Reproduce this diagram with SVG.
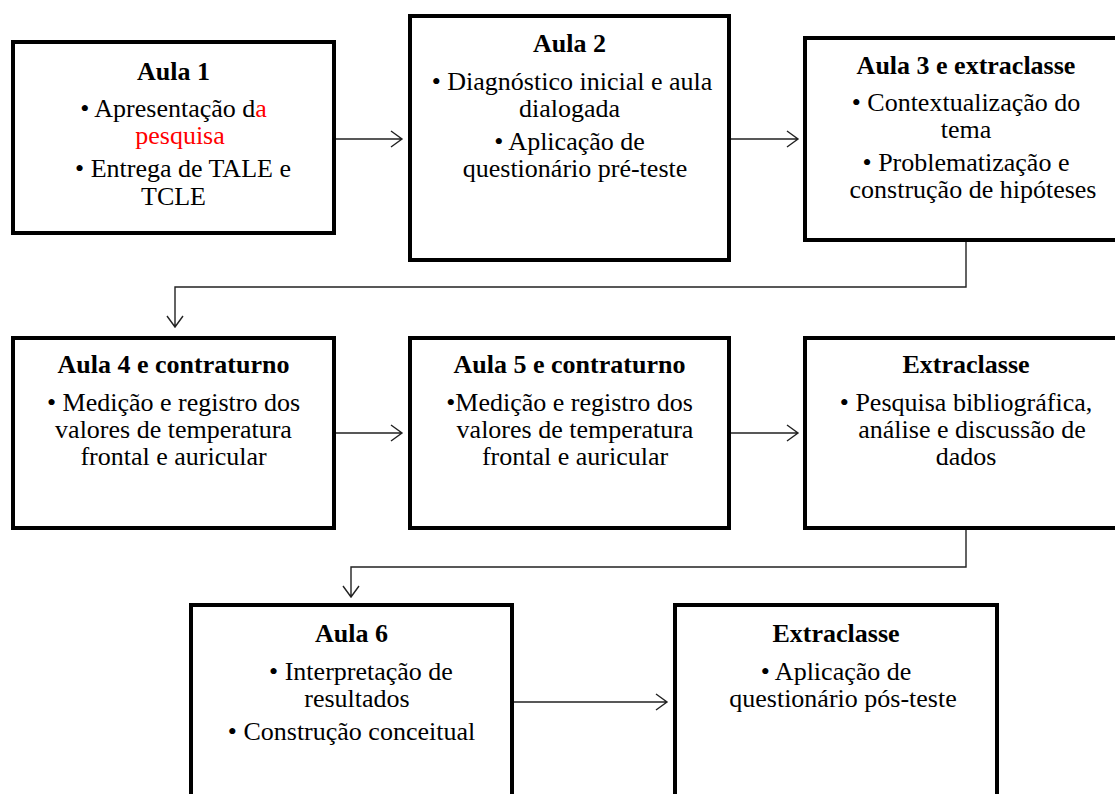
<svg xmlns="http://www.w3.org/2000/svg" width="1115" height="794" viewBox="0 0 1115 794">
<style>
.box{fill:#fff;stroke:#000;stroke-width:4}
.t{font-family:"Liberation Serif","Times New Roman",serif;font-size:26px;fill:#000;text-anchor:middle}
.b{font-weight:bold}
.red{fill:#f00}
.c{fill:none;stroke:#222;stroke-width:1.4}
</style>
<rect width="1115" height="794" fill="#fff"/>
<g id="connectors">
<path class="c" d="M336 139H402M391 131L402 139L391 147"/>
<path class="c" d="M731 139H798M787 131L798 139L787 147"/>
<path class="c" d="M966 242V287H175V327M167 316L175 327L183 316"/>
<path class="c" d="M336 433H402M391 425L402 433L391 441"/>
<path class="c" d="M731 433H798M787 425L798 433L787 441"/>
<path class="c" d="M966 530V567H351V597M343 586L351 597L359 586"/>
<path class="c" d="M514 702H667M656 694L667 702L656 710"/>
</g>
<g id="aula1">
<rect class="box" x="13" y="42" width="321" height="191"/>
<text class="t b" x="173.5" y="80">Aula 1</text>
<text class="t" x="173.5" y="117">• Apresentação d<tspan class="red">a</tspan></text>
<text class="t red" x="180" y="144">pesquisa</text>
<text class="t" x="183" y="177">• Entrega de TALE e</text>
<text class="t" x="173.5" y="205">TCLE</text>
</g>
<g id="aula2">
<rect class="box" x="410" y="16" width="319" height="244"/>
<text class="t b" x="569.5" y="52">Aula 2</text>
<text class="t" x="572" y="90">• Diagnóstico inicial e aula</text>
<text class="t" x="569.5" y="117">dialogada</text>
<text class="t" x="569.5" y="150">• Aplicação de</text>
<text class="t" x="575" y="177">questionário pré-teste</text>
</g>
<g id="aula3">
<rect class="box" x="805" y="38" width="322" height="202"/>
<text class="t b" x="966" y="74">Aula 3 e extraclasse</text>
<text class="t" x="966" y="111">• Contextualização do</text>
<text class="t" x="966" y="138">tema</text>
<text class="t" x="966" y="171">• Problematização e</text>
<text class="t" x="973" y="198">construção de hipóteses</text>
</g>
<g id="aula4">
<rect class="box" x="13" y="338" width="321" height="190"/>
<text class="t b" x="173.5" y="373">Aula 4 e contraturno</text>
<text class="t" x="173.5" y="411">• Medição e registro dos</text>
<text class="t" x="173.5" y="438">valores de temperatura</text>
<text class="t" x="173.5" y="465">frontal e auricular</text>
</g>
<g id="aula5">
<rect class="box" x="410" y="338" width="319" height="190"/>
<text class="t b" x="569.5" y="373">Aula 5 e contraturno</text>
<text class="t" x="569.5" y="411">•Medição e registro dos</text>
<text class="t" x="575" y="438">valores de temperatura</text>
<text class="t" x="575" y="465">frontal e auricular</text>
</g>
<g id="extraclasse1">
<rect class="box" x="805" y="338" width="322" height="190"/>
<text class="t b" x="966" y="373">Extraclasse</text>
<text class="t" x="966" y="411">• Pesquisa bibliográfica,</text>
<text class="t" x="972" y="438">análise e discussão de</text>
<text class="t" x="966" y="465">dados</text>
</g>
<g id="aula6">
<rect class="box" x="191" y="605" width="321" height="210"/>
<text class="t b" x="351.5" y="642">Aula 6</text>
<text class="t" x="361" y="680">• Interpretação de</text>
<text class="t" x="357" y="707">resultados</text>
<text class="t" x="351.5" y="740">• Construção conceitual</text>
</g>
<g id="extraclasse2">
<rect class="box" x="675" y="605" width="322" height="210"/>
<text class="t b" x="836" y="642">Extraclasse</text>
<text class="t" x="836" y="680">• Aplicação de</text>
<text class="t" x="843" y="707">questionário pós-teste</text>
</g>
</svg>
